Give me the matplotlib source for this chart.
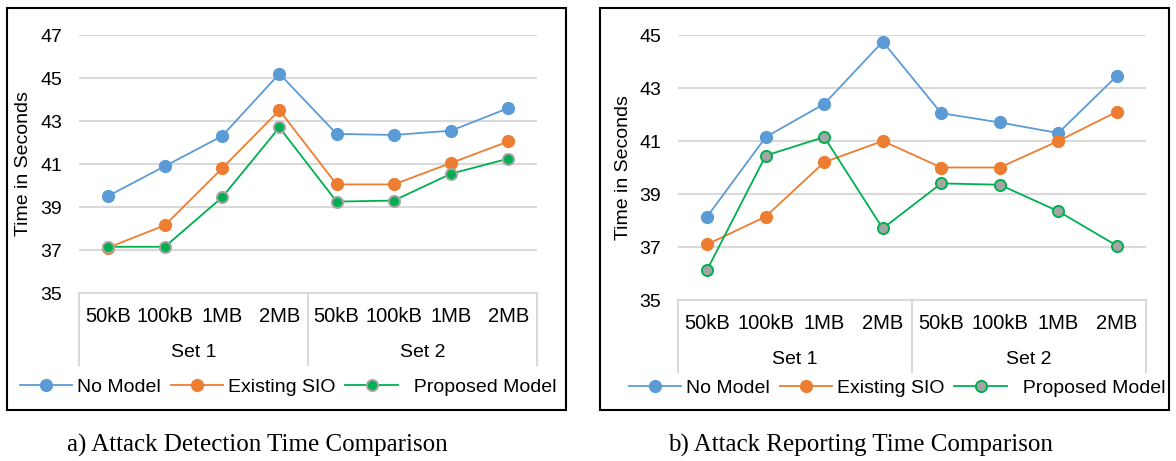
import matplotlib
matplotlib.use("Agg")
import matplotlib.pyplot as plt
from matplotlib.patches import Rectangle
from matplotlib.lines import Line2D
import matplotlib.transforms as mtransforms

plt.rcParams['font.family'] = ['Liberation Sans', 'DejaVu Sans']

sizes = ["50kB", "100kB", "1MB", "2MB", "50kB", "100kB", "1MB", "2MB"]
sets = ["Set 1", "Set 2"]
series = ["No Model", "Existing SIO", "Proposed Model"]

# a) detection time
det_no_model = [39.5, 40.9, 42.3, 45.2, 42.4, 42.35, 42.55, 43.6]
det_existing = [37.1, 38.15, 40.8, 43.5, 40.05, 40.05, 41.05, 42.05]
det_proposed = [37.15, 37.15, 39.45, 42.7, 39.25, 39.3, 40.55, 41.25]

# b) reporting time
rep_no_model = [38.15, 41.15, 42.4, 44.75, 42.05, 41.7, 41.3, 43.45]
rep_existing = [37.1, 38.15, 40.2, 41.0, 40.0, 40.0, 41.0, 42.1]
rep_proposed = [36.15, 40.45, 41.15, 37.7, 39.4, 39.35, 38.35, 37.05]

blue = "#5b9bd5"
orange = "#ed7d31"
green = "#00b050"
gray = "#a5a5a5"
grid = "#d9d9d9"

W, H = 1176, 461
fig = plt.figure(figsize=(W / 100, H / 100), dpi=100)


def px(x0, x1, ytop, ybot):
    return [x0 / W, 1 - ybot / H, (x1 - x0) / W, (ybot - ytop) / H]


def panel(rect, ylim, yticks, data, prop_face, prop_edge, box, leg_xy, sep_bot, set_y,
          caption, cap_x, ylab_x):
    ax = fig.add_axes(rect)
    x = list(range(len(sizes)))
    ax.plot(x, data[0], color=blue, lw=1.3, marker="o", ms=8.5, label=series[0])
    ax.plot(x, data[1], color=orange, lw=1.3, marker="o", ms=8.5, label=series[1])
    ax.plot(x, data[2], color=green, lw=1.3, marker="o", ms=8, mfc=prop_face,
            mec=prop_edge, mew=1.4, label="  " + series[2])
    ax.set_xlim(-0.5, len(sizes) - 0.5)
    ax.set_ylim(*ylim)
    ax.set_yticks(yticks)
    ax.grid(axis="y", color=grid, lw=1.5)
    ax.set_axisbelow(True)
    for s in ["left", "right", "top"]:
        ax.spines[s].set_visible(False)
    ax.spines["bottom"].set_color(grid)
    ax.spines["bottom"].set_linewidth(1.5)
    ax.set_xticks(x)
    ax.set_xticklabels(sizes)
    ax.tick_params(axis="both", length=0, labelsize=14)
    ax.tick_params(axis="x", labelsize=14.5, pad=10)
    ax.tick_params(axis="y", pad=12)
    ax.set_ylabel("Time in Seconds", fontsize=14)
    ax.yaxis.set_label_coords(ylab_x, 0.5)

    trans = mtransforms.blended_transform_factory(ax.transData, ax.transAxes)
    for xv in [-0.5, 3.5, 7.5]:
        ax.add_line(Line2D([xv, xv], [0, sep_bot], transform=trans, color=grid,
                           lw=1.5, clip_on=False))
    ax.text(1.5, set_y, sets[0], transform=trans, ha="center", va="center", fontsize=14)
    ax.text(5.5, set_y, sets[1], transform=trans, ha="center", va="center", fontsize=14)

    fig.legend(*ax.get_legend_handles_labels(), loc="center", ncol=3, frameon=False,
               fontsize=14, handlelength=2.7, handletextpad=0.25, columnspacing=0.5,
               bbox_to_anchor=(leg_xy[0] / W, 1 - leg_xy[1] / H))

    fig.add_artist(Rectangle((box[0] / W, 1 - box[3] / H), (box[1] - box[0]) / W,
                             (box[3] - box[2]) / H, transform=fig.transFigure,
                             fill=False, ec="black", lw=1.5))
    fig.text(cap_x / W, 1 - 445 / H, caption, ha="center", va="center",
             fontsize=18, family="Liberation Serif")
    return ax


panel(px(79, 537, 35, 293), (35, 47), [35, 37, 39, 41, 43, 45, 47],
      [det_no_model, det_existing, det_proposed], green, gray,
      (7, 566, 8, 410), (288, 387), -0.279, -0.229,
      "a) Attack Detection Time Comparison", 257, -0.103)

panel(px(678, 1146, 35, 300), (35, 45), [35, 37, 39, 41, 43, 45],
      [rep_no_model, rep_existing, rep_proposed], gray, green,
      (600, 1169, 8, 410), (897, 388), -0.272, -0.226,
      "b) Attack Reporting Time Comparison", 860, -0.098)

fig.savefig("out.png", dpi=100)
